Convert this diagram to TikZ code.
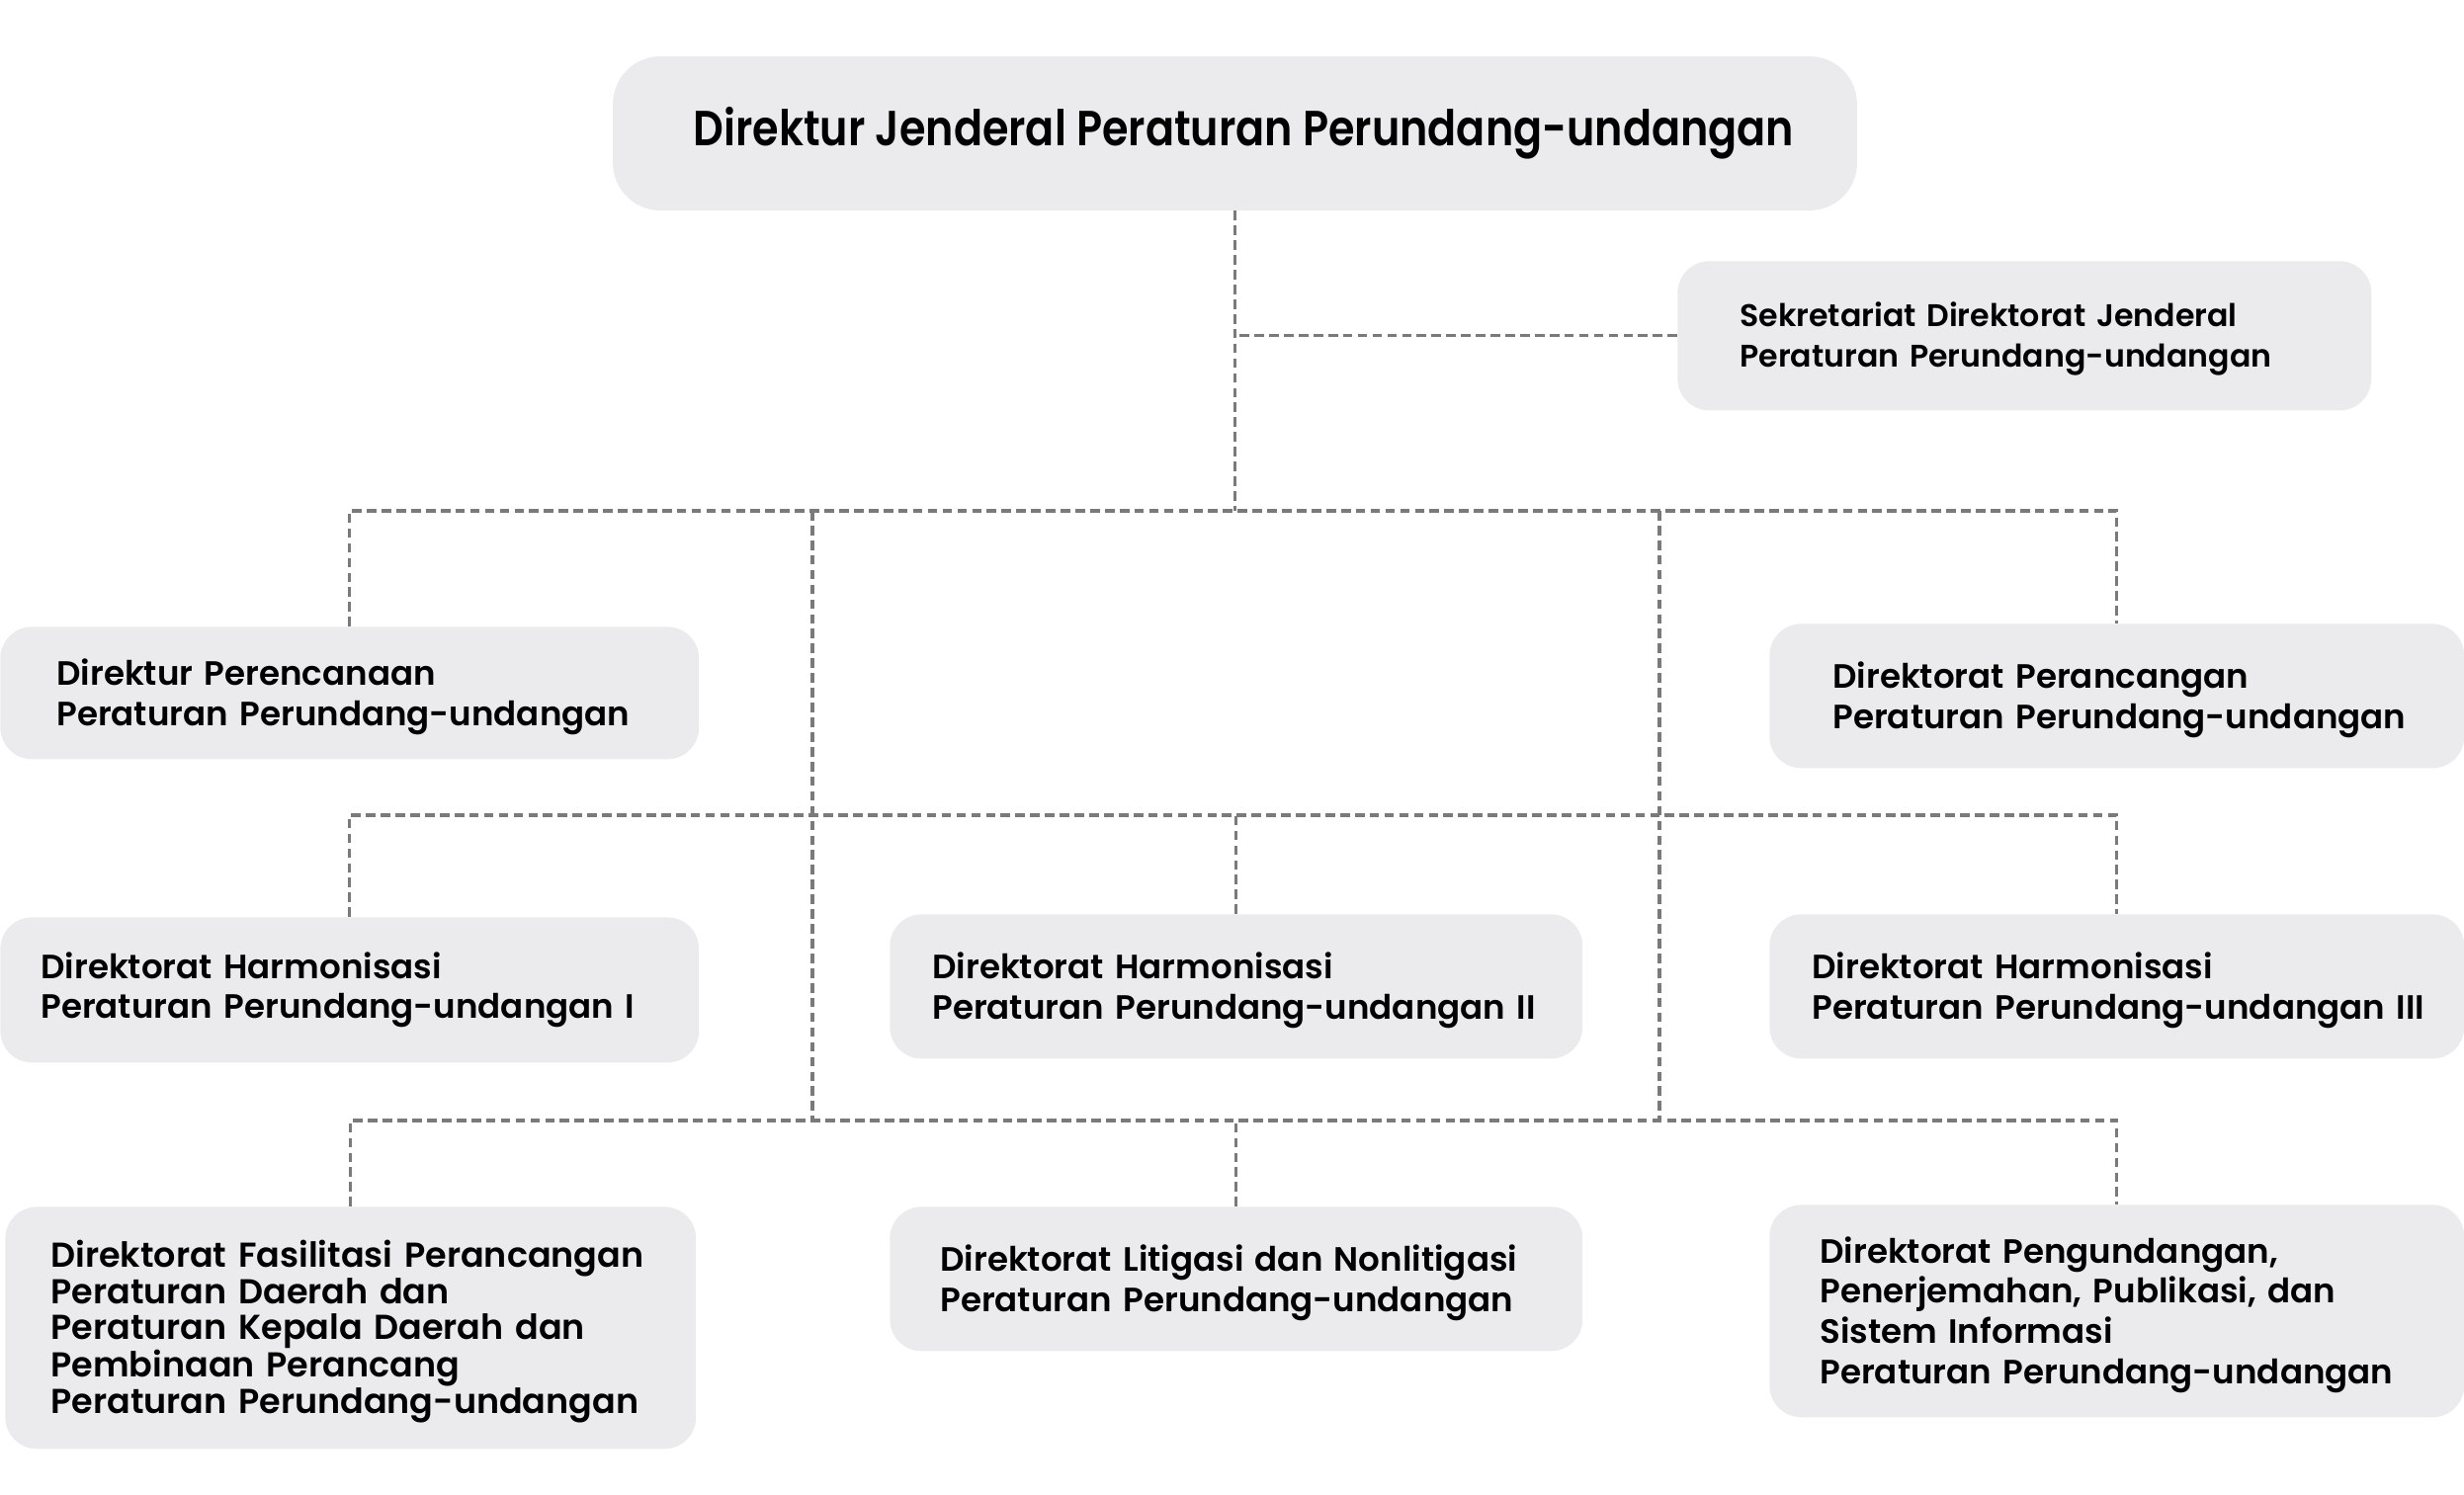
\documentclass[tikz,border=0pt]{standalone}
\usepackage{fontspec}
\setmainfont{Poppins SemiBold}
\newfontfamily\titlefont{Poppins SemiBold}[FakeStretch=0.86]
\definecolor{boxfill}{HTML}{EBEBED}
\definecolor{linegray}{HTML}{7A7A7A}
\newcommand\topfix{\rule{0pt}{1em}}
\begin{document}
\begin{tikzpicture}[x=0.02cm,y=-0.02cm,
  orgbox/.style={fill=boxfill, rounded corners=0.64cm, inner ysep=0pt, align=left,
     anchor=north west, font=\fontsize{19.4}{23.2}\selectfont, text=black},
  conn/.style={draw=linegray, line width=1.8pt, dash pattern=on 5.5pt off 3pt}]
\useasboundingbox (0,0) rectangle (2493,1513);

\node[fill=boxfill, rounded corners=0.96cm, minimum width=25.18cm, minimum height=3.12cm,
  font=\titlefont\fontsize{28.4}{34}\selectfont] (top) at (1249.5,135)
  {\hspace*{0.36cm}Direktur Jenderal Peraturan Perundang-undangan};

\node[orgbox, minimum width=14.04cm, minimum height=3.02cm, inner xsep=1.26cm, text width=11.52cm,
  font=\fontsize{18}{23.2}\selectfont] (sek) at (1697,264)
  {\topfix Sekretariat Direktorat Jenderal\\\mbox{Peraturan Perundang-undangan}};

\node[orgbox, minimum width=14.14cm, minimum height=2.68cm, inner xsep=1.14cm, text width=11.86cm] (pren) at (0,634)
  {\topfix Direktur Perencanaan\\\mbox{Peraturan Perundang-undangan}};
\node[orgbox, minimum width=14.06cm, minimum height=2.92cm, inner xsep=1.28cm, text width=11.50cm] (pranc) at (1790,631)
  {\topfix Direktorat Perancangan\\\mbox{Peraturan Perundang-undangan}};

\node[orgbox, minimum width=14.14cm, minimum height=2.94cm, inner xsep=0.82cm, text width=12.50cm] (h1) at (0,928)
  {Direktorat Harmonisasi\\\mbox{Peraturan Perundang-undangan I}};
\node[orgbox, minimum width=14.02cm, minimum height=2.92cm, inner xsep=0.86cm, text width=12.30cm] (h2) at (900,925)
  {\topfix Direktorat Harmonisasi\\\mbox{Peraturan Perundang-undangan II}};
\node[orgbox, minimum width=14.06cm, minimum height=2.92cm, inner xsep=0.86cm, text width=12.34cm] (h3) at (1790,925)
  {\topfix Direktorat Harmonisasi\\\mbox{Peraturan Perundang-undangan III}};

\node[orgbox, minimum width=13.98cm, minimum height=4.90cm, inner xsep=0.92cm, text width=12.14cm,
  font=\fontsize{19.9}{20.7}\selectfont] (fas) at (5,1221)
  {\topfix \mbox{Direktorat Fasilitasi Perancangan}\\Peraturan Daerah dan\\Peraturan Kepala Daerah dan\\Pembinaan Perancang\\\mbox{Peraturan Perundang-undangan}};
\node[orgbox, minimum width=14.02cm, minimum height=2.92cm, inner xsep=1.02cm, text width=11.98cm] (lit) at (900,1221)
  {\topfix \mbox{Direktorat Litigasi dan Nonlitigasi}\\\mbox{Peraturan Perundang-undangan}};
\node[orgbox, minimum width=14.06cm, minimum height=4.30cm, inner xsep=1.02cm, text width=12.02cm] (peng) at (1790,1219)
  {\topfix Direktorat Pengundangan,\\\mbox{Penerjemahan, Publikasi, dan}\\Sistem Informasi\\\mbox{Peraturan Perundang-undangan}};

% bus coordinates
\coordinate (bus1) at (1250,517);
\coordinate (bus2) at (1250,825);
\coordinate (bus3) at (1250,1134);
\coordinate (vl1) at (822,517);
\coordinate (vl2) at (822,1134);
\coordinate (vr1) at (1679,517);
\coordinate (vr2) at (1679,1134);

\draw[conn] (top.south) -- (top.south |- bus1);
\draw[conn] (sek.west) -- (sek.west -| top.south);
\draw[conn] (pren.north) -- (pren.north |- bus1) -- (pranc.north |- bus1) -- (pranc.north);
\draw[conn] (h1.north) -- (h1.north |- bus2) -- (h3.north |- bus2) -- (h3.north);
\draw[conn] (h2.north) -- (h2.north |- bus2);
\draw[conn] (fas.north) -- (fas.north |- bus3) -- (peng.north |- bus3) -- (peng.north);
\draw[conn] (lit.north) -- (lit.north |- bus3);
\draw[conn] (vl1) -- (vl2);
\draw[conn] (vr1) -- (vr2);
\end{tikzpicture}
\end{document}
